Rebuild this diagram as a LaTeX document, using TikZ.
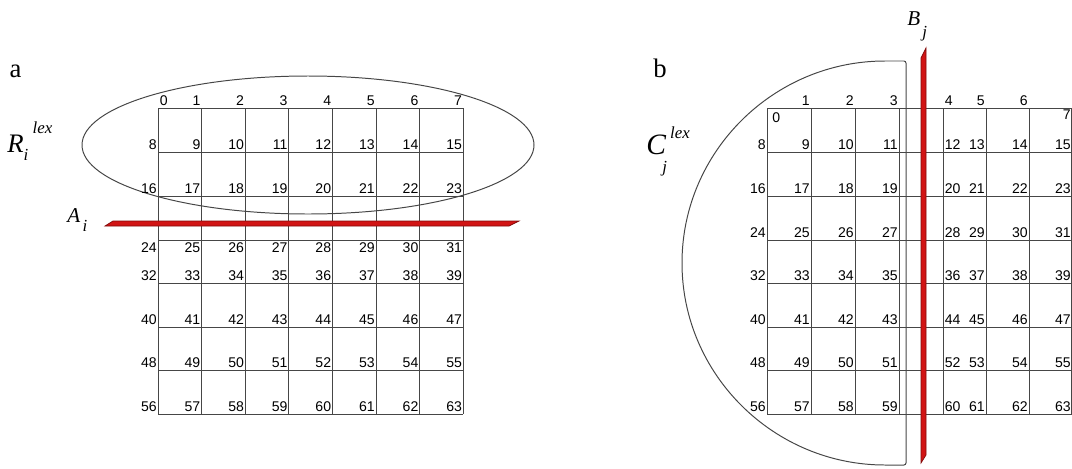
\documentclass[tikz,border=0pt]{standalone}
\usepackage{fontspec}
\setmainfont{Liberation Serif}
\newfontfamily\numfont{Liberation Sans}
\usetikzlibrary{positioning}
\definecolor{CutRed}{RGB}{210,20,20}
\definecolor{CutRedDark}{RGB}{130,10,10}
\definecolor{GridGray}{RGB}{70,70,70}
\tikzset{
  gridline/.style={draw=GridGray,line width=0.7pt},
  regionline/.style={draw=GridGray,line width=0.7pt},
  cutbar/.style={fill=CutRed,draw=CutRedDark,line width=0.5pt},
  cellnum/.style={font=\numfont\fontsize{10}{12}\selectfont,inner sep=0pt},
  panellabel/.style={font=\fontsize{19}{22}\selectfont,inner sep=0pt},
  setlabel/.style={inner sep=0pt,anchor=base west,font=\itshape},
}
% small index text for the set labels
\newcommand{\idx}[1]{{\fontsize{12}{12}\selectfont #1}}

\begin{document}
\begin{tikzpicture}[x=0.025cm,y=-0.025cm]
\useasboundingbox (0,0) rectangle (1072,468);

% panel a
\node[panellabel,anchor=base] (pa) at (15.5,77) {a};
\draw[regionline] (308,145) ellipse [x radius=226, y radius=69];
\foreach \y in {108,152,196,240,283,327,370,414}
  \draw[gridline] (158,\y) -- (463,\y);
\foreach \c in {0,...,7}
  \draw[gridline] ({158+43.6*\c},108) -- ({158+43.6*\c},414);
\foreach \r/\yb in {0/105,1/149,2/193,3/252,4/280,5/324,6/367,7/411} {
  \foreach \c in {0,...,7} {
    \pgfmathtruncatemacro\k{8*\r+\c}
    \ifnum\k=0 \def\anc{base west}\def\dx{1.5}\else\def\anc{base east}\def\dx{-1}\fi
    \node[cellnum,anchor=\anc] (na-\k) at ({158+43.6*\c+\dx},\yb) {\k};
  }
}
\draw[cutbar] (105,226) -- (113,221) -- (519,221) -- (509,226) -- cycle;
\node[setlabel,font=\itshape\fontsize{19}{22}\selectfont] (rlex) at (7,152)
  {R\makebox[0pt][l]{\raisebox{-0.32em}{\idx{i}}}\hspace{0.34em}\raisebox{0.7em}{\idx{lex}}};
\node[setlabel,font=\itshape\fontsize{15}{18}\selectfont] (ai) at (67,222)
  {A\hspace{0.12em}\raisebox{-0.45em}{\idx{i}}};

% panel b
\node[panellabel,anchor=base] (pb) at (660,77) {b};
\draw[regionline,rounded corners=1.5pt] (887,465)
  arc[start angle=90, end angle=270, x radius=205, y radius=202]
  -- (906,61) -- (906,465) -- cycle;
\foreach \y in {108,152,196,240,283,327,370,414}
  \draw[gridline] (767,\y) -- (1072,\y);
\foreach \x in {767,811,855,899,943,986,1029,1071.6}
  \draw[gridline] (\x,108) -- (\x,414);
\foreach \r/\yb in {0/105,1/149,2/193,3/237,4/280,5/324,6/367,7/411} {
  \foreach \c/\x in {0/767,1/811,2/855,3/899,4/943,5/986,6/1029,7/1072} {
    \pgfmathtruncatemacro\k{8*\r+\c}
    \def\yy{\yb}
    \ifnum\c=4 \def\anc{base west}\def\dx{1.5}\else\def\anc{base east}\def\dx{-1}\fi
    \ifnum\k=0 \def\anc{base west}\def\dx{5}\def\yy{122}\fi
    \ifnum\k=7 \def\yy{119}\fi
    \node[cellnum,anchor=\anc] (nb-\k) at ({\x+\dx},\yy) {\k};
  }
}
\draw[cutbar] (921,58) -- (926,48) -- (926,455) -- (921,463) -- cycle;
\node[setlabel,font=\itshape\fontsize{21}{24}\selectfont] (clex) at (646,154)
  {C\makebox[0pt][l]{\hspace{-0.12em}\raisebox{-0.62em}{\idx{j}}}\hspace{0.14em}\raisebox{0.52em}{\idx{lex}}};
\node[setlabel,font=\itshape\fontsize{15}{18}\selectfont] (bj) at (907,25)
  {B\hspace{0.1em}\raisebox{-0.6em}{\idx{j}}};
\end{tikzpicture}
\end{document}
